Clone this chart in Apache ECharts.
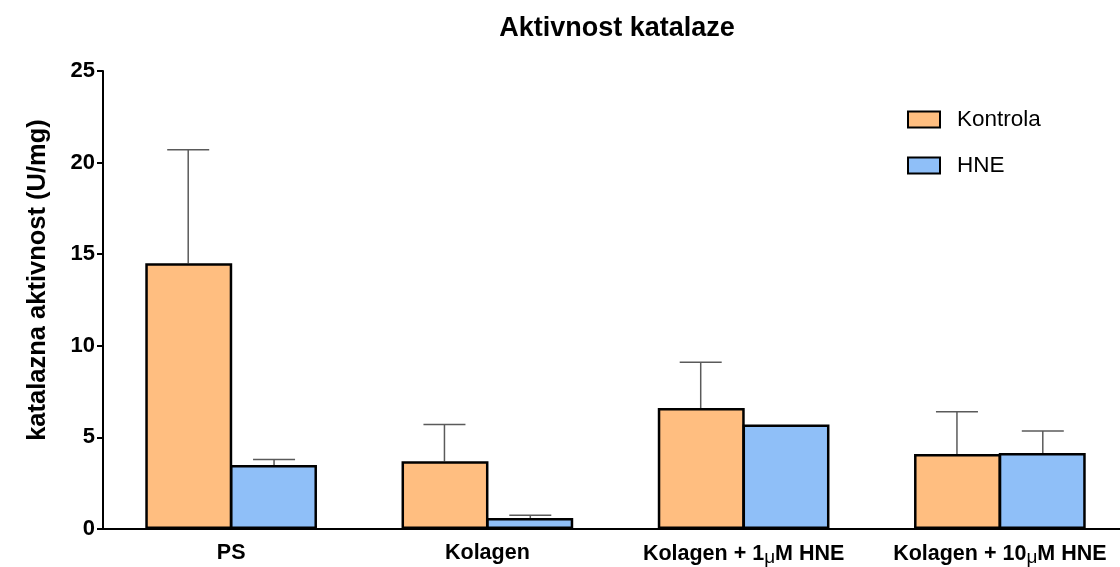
<!DOCTYPE html>
<html>
<head>
<meta charset="utf-8">
<script src="https://cdn.jsdelivr.net/npm/echarts@6/dist/echarts.min.js"></script>
<style>
  html, body { margin: 0; padding: 0; background: #fff; overflow: hidden; }
  #chart { width: 1130px; height: 567px; }
</style>
</head>
<body>
<div id="chart"></div>
<script>
// podaci očitani sa slike
const categories = ['PS', 'Kolagen', 'Kolagen + 1μM HNE', 'Kolagen + 10μM HNE'];
const kontrola = [14.5, 3.7, 6.6, 4.1];
const kontrolaErr = [6.2, 2.0, 2.5, 2.3];
const hne = [3.5, 0.6, 5.7, 4.15];
const hneErr = [0.3, 0.15, 0, 1.2];
const yTicks = [0, 5, 10, 15, 20, 25];

const FONT = "'Liberation Sans', Arial, sans-serif";
const CAT_GAP = 0.33;

// error bar (samo prema gore) preko custom serije
function errorSeries(name, values, errs, side) {
  return {
    name: name,
    type: 'custom',
    z: 1,
    data: values.map((v, i) => [i, v, errs[i]]),
    encode: { x: 0, y: 1 },
    renderItem(params, api) {
      const e = api.value(2);
      if (!e) return null;
      const band = api.size([1, 0])[0];
      const bw = band * (1 - CAT_GAP) / 2;
      const base = api.coord([api.value(0), api.value(1)]);
      const top = api.coord([api.value(0), api.value(1) + e]);
      const cx = base[0] + side * bw / 2;
      const cap = 21;
      const style = { stroke: '#5a5a5a', lineWidth: 1.5 };
      return {
        type: 'group',
        children: [
          { type: 'line', shape: { x1: cx, y1: base[1], x2: cx, y2: top[1] }, style: style },
          { type: 'line', shape: { x1: cx - cap, y1: top[1], x2: cx + cap, y2: top[1] }, style: style },
        ],
      };
    },
  };
}

const chart = echarts.init(document.getElementById('chart'));
chart.setOption({
  animation: false,
  backgroundColor: '#fff',
  title: {
    text: 'Aktivnost katalaze',
    left: 612,
    textAlign: 'center',
    top: 10,
    textStyle: { fontFamily: FONT, fontSize: 27, fontWeight: 'bold', color: '#000' },
  },
  legend: {
    data: ['Kontrola', 'HNE'],
    orient: 'vertical',
    left: 902,
    top: 103,
    icon: 'rect',
    itemWidth: 32,
    itemHeight: 16,
    itemGap: 23,
    textStyle: { fontFamily: FONT, fontSize: 22.5, color: '#000', padding: [0, 0, 0, 12] },
  },
  grid: { left: 103, right: 2, top: 71, height: 460 },
  xAxis: {
    type: 'category',
    data: categories,
    axisLine: { lineStyle: { color: '#000', width: 2 } },
    axisTick: { alignWithLabel: true, length: 8, lineStyle: { color: '#000', width: 2 } },
    axisLabel: {
      margin: 13,
      interval: 0,
      fontFamily: FONT,
      fontSize: 21.5,
      fontWeight: 'bold',
      color: '#000',
      formatter(v) {
        return v.replace('μ', '{mu|μ}');
      },
      rich: {
        mu: { fontFamily: FONT, fontSize: 19, fontWeight: 'normal', color: '#000', padding: [6, 0, 0, 0] },
      },
    },
  },
  yAxis: {
    type: 'value',
    min: yTicks[0],
    max: yTicks[yTicks.length - 1],
    interval: 5,
    name: 'katalazna aktivnost (U/mg)',
    nameLocation: 'middle',
    nameGap: 52,
    nameRotate: 90,
    nameTextStyle: { fontFamily: FONT, fontSize: 25.5, fontWeight: 'bold', color: '#000', padding: [0, 0, 0, 40] },
    splitLine: { show: false },
    axisLine: { show: true, lineStyle: { color: '#000', width: 2 } },
    axisTick: { show: true, length: 6, lineStyle: { color: '#000', width: 2 } },
    axisLabel: { margin: 8, fontFamily: FONT, fontSize: 22, fontWeight: 'bold', color: '#000' },
  },
  series: [
    errorSeries('errKontrola', kontrola, kontrolaErr, -1),
    errorSeries('errHNE', hne, hneErr, 1),
    {
      name: 'Kontrola',
      type: 'bar',
      z: 2,
      data: kontrola,
      barGap: '-2.5%',
      barCategoryGap: (CAT_GAP * 100) + '%',
      itemStyle: { color: '#FFBE80', borderColor: '#000', borderWidth: 2.5 },
    },
    {
      name: 'HNE',
      type: 'bar',
      z: 2,
      data: hne,
      barGap: '-2.5%',
      barCategoryGap: (CAT_GAP * 100) + '%',
      itemStyle: { color: '#8FBFF8', borderColor: '#000', borderWidth: 2.5 },
    },
  ],
});
</script>
</body>
</html>
